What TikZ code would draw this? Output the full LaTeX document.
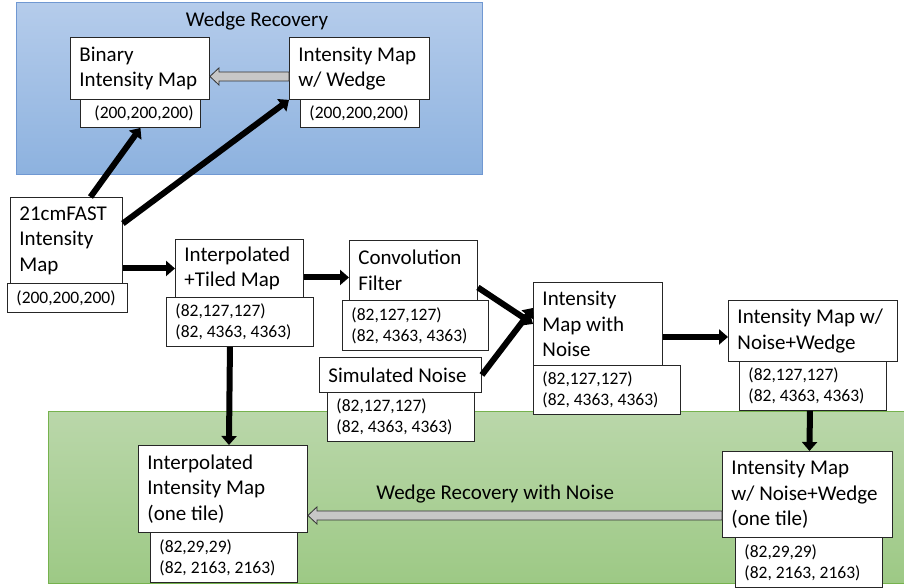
\documentclass[tikz,border=0pt]{standalone}
\usepackage{fontspec}
\setmainfont{Carlito}
\usetikzlibrary{arrows.meta}
\usetikzlibrary{calc}
\definecolor{wrtop}{RGB}{181,204,235}
\definecolor{wrbot}{RGB}{141,178,223}
\definecolor{wrline}{RGB}{112,152,210}
\definecolor{wntop}{RGB}{186,215,170}
\definecolor{wnbot}{RGB}{157,201,133}
\definecolor{wnline}{RGB}{118,178,78}
\newcommand\bigtext{\fontsize{21}{25.5}\selectfont}
\newcommand\smalltext{\fontsize{17.5}{21}\selectfont}
\tikzstyle{stage}=[draw=black!85, line width=.9pt, fill=white, anchor=north west, inner xsep=9pt, inner ysep=1pt, align=flush left, font=\bigtext]
\tikzstyle{dims}=[stage, font=\smalltext]
\tikzset{wh/.style 2 args={minimum width=#1pt, text width=#1pt-18pt, minimum height=#2pt}}
\tikzstyle{flow}=[line width=6pt, -{Triangle[length=9pt,width=15pt]}]
\tikzstyle{recover}=[draw=black!80, line width=.8pt, fill=black!22, to path={
  ($(\tikztostart)+(0,4.5)$) -- ($(\tikztotarget)+(9,4.5)$) \tikztonodes
  -- ($(\tikztotarget)+(9,8.5)$) -- (\tikztotarget) -- ($(\tikztotarget)+(9,-8.5)$)
  -- ($(\tikztotarget)+(9,-4.5)$) -- ($(\tikztostart)+(0,-4.5)$) -- cycle}]
\begin{document}
\begin{tikzpicture}[x=1pt,y=-1pt]
	\useasboundingbox (0,0) rectangle (904,587);
	% the two recovery regions
	\draw[wrline, line width=1pt, top color=wrtop, bottom color=wrbot] (16,2) rectangle (482,174);
	\draw[wnline, line width=1pt, top color=wntop, bottom color=wnbot] (48,411) rectangle (906,583);
	\node[font=\bigtext] (wrtitle) at (257,21) {Wedge Recovery};

	\node[stage, wh={139}{62}] (binary) at (70,37) {Binary\\Intensity~Map};
	\node[dims, wh={120}{28}, inner xsep=14pt, text width=92pt] (binarydim) at (80,99) {(200,200,200)};
	\node[stage, wh={140}{62}] (wedge) at (289,37) {Intensity~Map\\w/~Wedge};
	\node[dims, wh={119}{28}] (wedgedim) at (300,99) {(200,200,200)};

	\node[stage, wh={112}{86}] (fast) at (10,197) {21cmFAST\\Intensity\\Map};
	\node[dims, wh={120}{29}] (fastdim) at (7,283) {(200,200,200)};
	\node[stage, wh={128}{58}] (tiled) at (175,239) {Interpolated\\+Tiled~Map};
	\node[dims, wh={147}{49}] (tileddim) at (166,297) {(82,127,127)\\(82, 4363, 4363)};
	\node[stage, wh={128}{60}] (conv) at (349,240) {Convolution\\Filter};
	\node[dims, wh={146}{50}] (convdim) at (342,300) {(82,127,127)\\(82, 4363, 4363)};
	\node[stage, wh={162}{35}] (sim) at (319,357) {Simulated~Noise};
	\node[dims, wh={147}{49}] (simdim) at (327,392) {(82,127,127)\\(82, 4363, 4363)};
	\node[stage, wh={129}{83}] (noise) at (533,282) {Intensity\\Map~with\\Noise};
	\node[dims, wh={147}{49}] (noisedim) at (533,365) {(82,127,127)\\(82, 4363, 4363)};
	\node[stage, wh={169}{61}] (nw) at (728,300) {Intensity~Map~w/\\Noise+Wedge};
	\node[dims, wh={147}{49}] (nwdim) at (739,361) {(82,127,127)\\(82, 4363, 4363)};

	\node[stage, wh={169}{87}] (tilei) at (138,445) {Interpolated\\Intensity~Map\\(one~tile)};
	\node[dims, wh={147}{50}] (tileidim) at (150,532) {(82,29,29)\\(82, 2163, 2163)};
	\node[stage, wh={170}{86}] (tilew) at (722,451) {Intensity~Map\\w/~Noise+Wedge\\(one~tile)};
	\node[dims, wh={147}{50}] (tilewdim) at (735,537) {(82,29,29)\\(82, 2163, 2163)};

	\draw[flow] ([xshift=24pt]fast.north) -- (binarydim.south);
	\draw[flow] ([yshift=17pt]fast.east) -- (wedge.south west);
	\draw[flow] (fast.east |- tiled.west) -- (tiled.west);
	\draw[flow] ([yshift=-9pt]tiled.east) -- ([yshift=-7pt]conv.west);
	\draw[flow] ([yshift=-17pt]conv.east) -- (noise.west);
	\draw[flow] (sim.east) -- ([yshift=16pt]noise.west);
	\draw[flow] ([yshift=-13pt]noise.east) -- ([yshift=-6pt]nw.west);
	\draw[flow] ([xshift=-10pt]tileddim.south) -- ([xshift=6pt]tilei.north);
	\draw[flow] ([xshift=-3pt]nwdim.south) -- ([xshift=2pt]tilew.north);

	\draw[recover] ([yshift=-8pt]wedge.west) to ([yshift=-8pt]binary.east);
	\draw[recover] ([yshift=-21pt]tilew.west) to node[pos=.56, above=13pt, font=\bigtext] {Wedge Recovery with Noise} ([yshift=-26.5pt]tilei.east);
\end{tikzpicture}
\end{document}
